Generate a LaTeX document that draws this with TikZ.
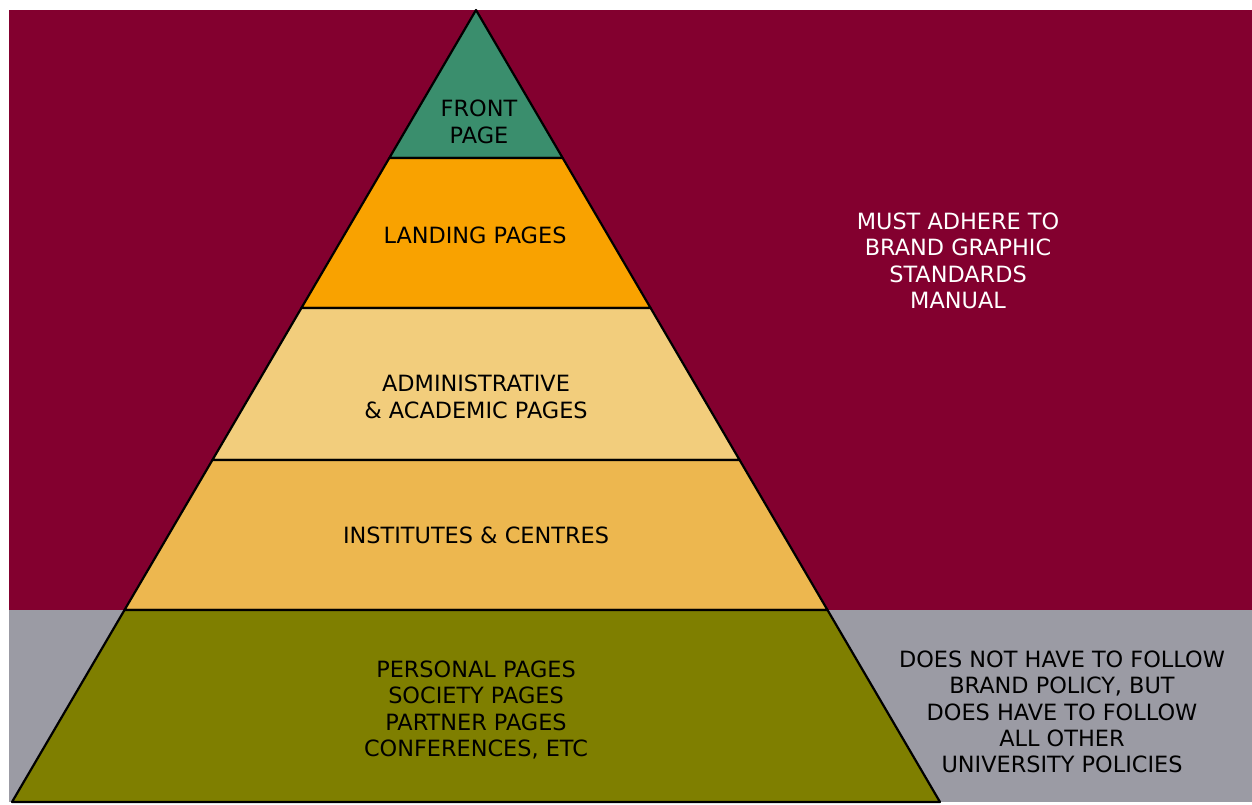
\documentclass[tikz,border=0pt]{standalone}
\usepackage{fontspec}
\setmainfont{DejaVu Sans}
\usetikzlibrary{calc}

\definecolor{brandred}{HTML}{83002F}
\definecolor{freegrey}{HTML}{9B9BA4}
\definecolor{frontgreen}{HTML}{3A8E6D}
\definecolor{landorange}{HTML}{F9A200}
\definecolor{adminsand}{HTML}{F2CD7C}
\definecolor{instgold}{HTML}{EDB74F}
\definecolor{personalolive}{HTML}{7F7F00}

\begin{document}
\begin{tikzpicture}[x=0.5pt, y=-0.5pt,
    band/.style={draw=black, line width=1.1pt, line join=round},
    lbl/.style={align=center, inner sep=0pt, font=\fontsize{11.2}{13.2}\selectfont}]

    \useasboundingbox (0,0) rectangle (1252,804);

    % the two zones behind the pyramid
    \fill[brandred] (9,10) rectangle (1252,610);
    \fill[freegrey] (9,610) rectangle (1252,802);

    % pyramid corners, level by level
    \coordinate (apex) at (476,10);
    \coordinate (l1) at (389.3,158);  \coordinate (r1) at (562.7,158);
    \coordinate (l2) at (301.4,308);  \coordinate (r2) at (650.6,308);
    \coordinate (l3) at (212.4,460);  \coordinate (r3) at (739.6,460);
    \coordinate (l4) at (124.5,610);  \coordinate (r4) at (827.5,610);
    \coordinate (l5) at (12,802);     \coordinate (r5) at (940,802);

    \filldraw[band, fill=frontgreen] (apex) -- (r1) -- (l1) -- cycle;
    \filldraw[band, fill=landorange] (l1) -- (r1) -- (r2) -- (l2) -- cycle;
    \filldraw[band, fill=adminsand] (l2) -- (r2) -- (r3) -- (l3) -- cycle;
    \filldraw[band, fill=instgold] (l3) -- (r3) -- (r4) -- (l4) -- cycle;
    \filldraw[band, fill=personalolive] (l4) -- (r4) -- (r5) -- (l5) -- cycle;

    \node[lbl] (front) at (479,122) {FRONT\\PAGE};
    \node[lbl] (landing) at (475,235) {LANDING PAGES};
    \node[lbl] (admin) at (476,397) {ADMINISTRATIVE\\\& ACADEMIC PAGES};
    \node[lbl] (inst) at (476,535) {INSTITUTES \& CENTRES};
    \node[lbl] (personal) at (476,710)
    {PERSONAL PAGES\\SOCIETY PAGES\\PARTNER PAGES\\CONFERENCES, ETC};

    \node[lbl, text=white] (must) at (958,261)
    {MUST ADHERE TO\\BRAND GRAPHIC\\STANDARDS\\MANUAL};
    \node[lbl] (nomust) at (1062,712)
    {DOES NOT HAVE TO FOLLOW\\BRAND POLICY, BUT\\DOES HAVE TO FOLLOW\\ALL OTHER\\UNIVERSITY POLICIES};

\end{tikzpicture}
\end{document}
